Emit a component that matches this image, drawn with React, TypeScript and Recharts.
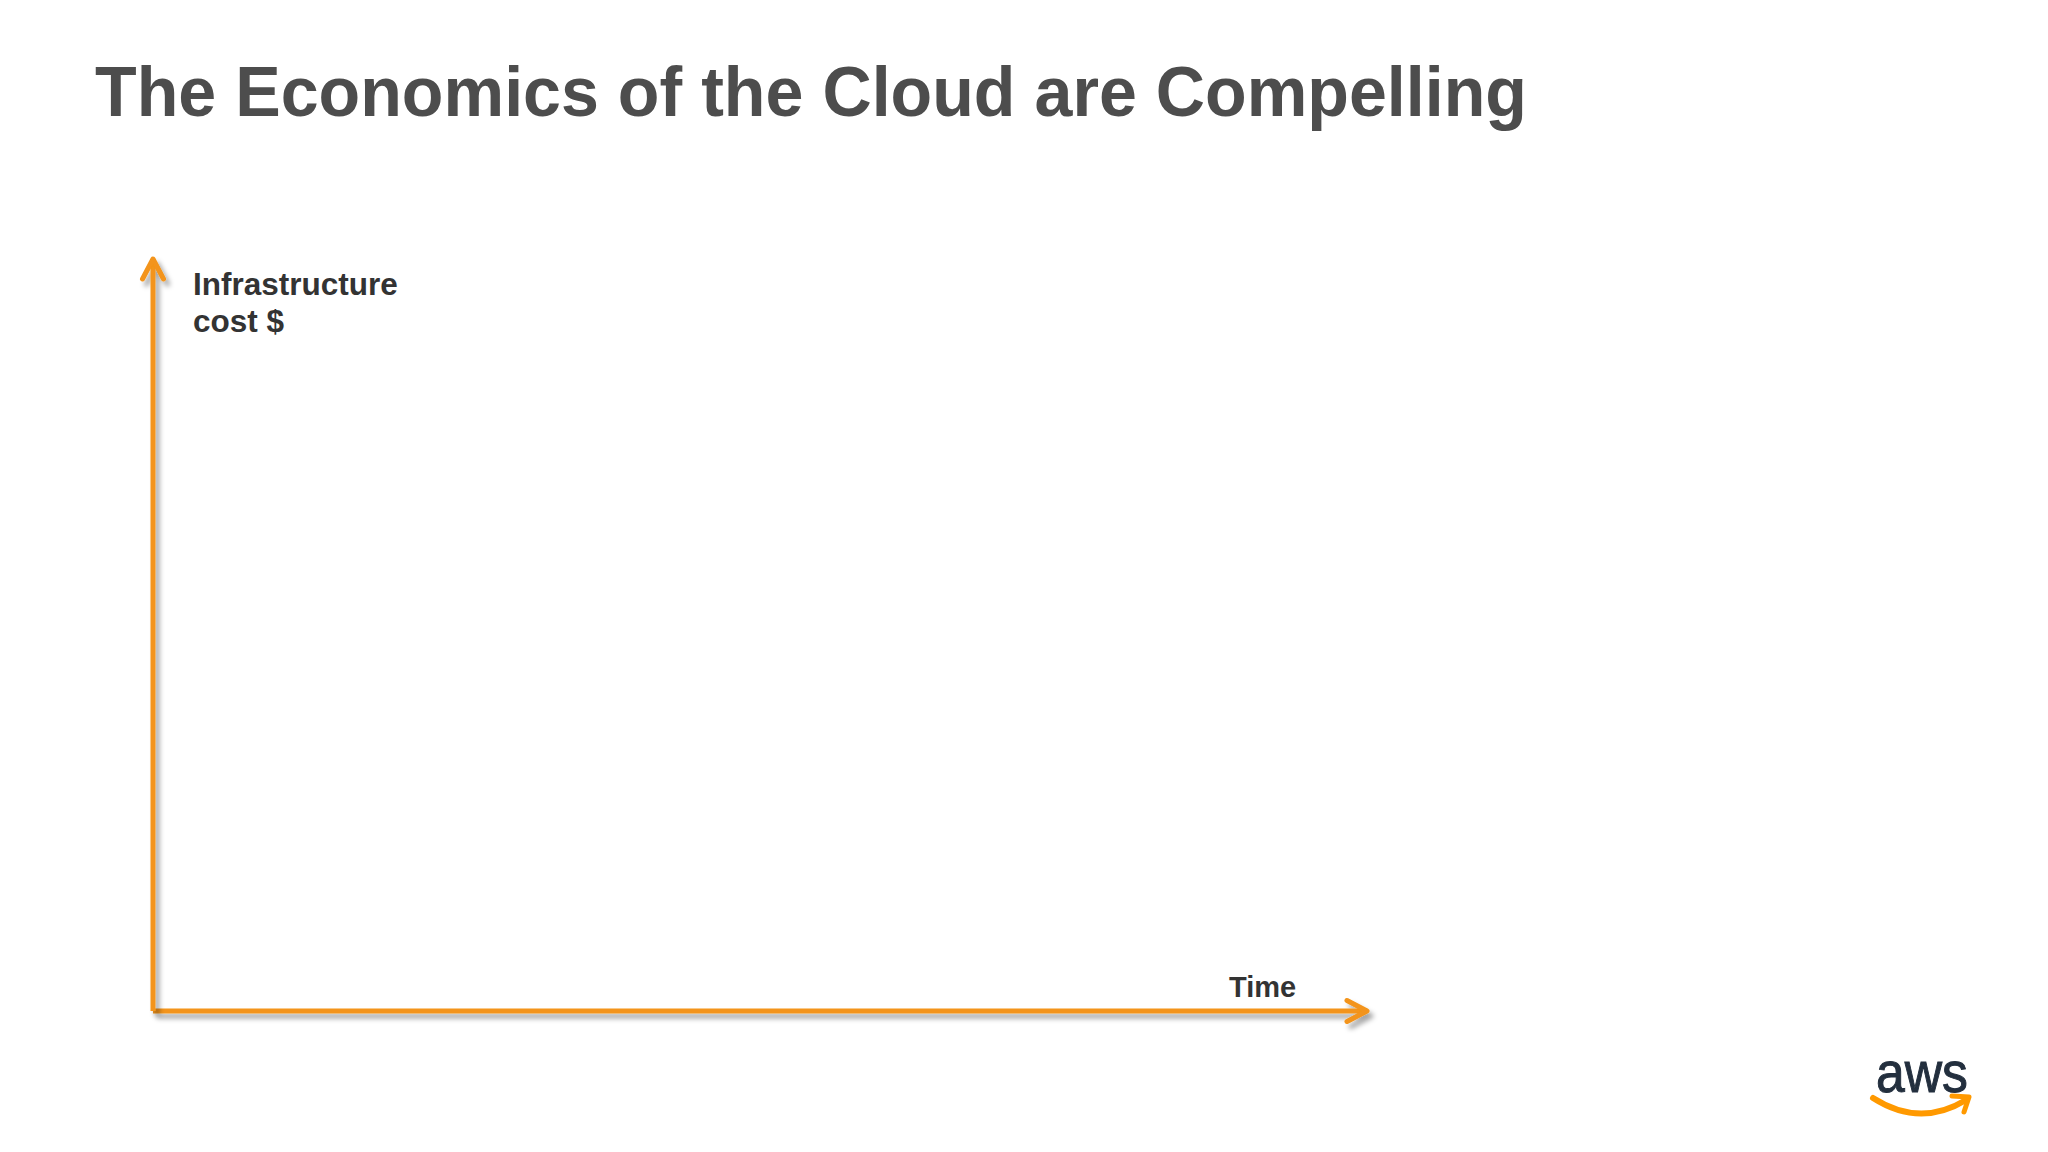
import React from 'react';
import { ComposedChart, XAxis, YAxis } from 'recharts';

const titleText = 'The Economics of the Cloud are Compelling';
const yAxisLabelLines = ['Infrastructure', 'cost $'];
const xAxisLabel = 'Time';
const logoText = 'aws';
const timeDomain = [0, 100];
const costDomain = [0, 100];
const timeValues = [0, 100];

const data = timeValues.map((t) => ({ time: t }));

const ORANGE = '#f3941a';
const AXIS_FONT = '"Liberation Sans", Arial, Helvetica, sans-serif';

export default function App() {
  return (
    <div
      style={{
        position: 'absolute',
        left: 0,
        top: 0,
        width: 2048,
        height: 1152,
        background: '#ffffff',
        overflow: 'hidden',
      }}
    >
      <svg width={0} height={0} style={{ position: 'absolute' }}>
        <defs>
          <marker
            id="arrowHead"
            markerUnits="userSpaceOnUse"
            markerWidth={40}
            markerHeight={40}
            refX={29}
            refY={20}
            viewBox="0 0 40 40"
            orient="auto-start-reverse"
          >
            <path
              d="M9,9.5 L29,20 L9,30.5"
              fill="none"
              stroke={ORANGE}
              strokeWidth={5}
              strokeLinecap="round"
              strokeLinejoin="round"
            />
          </marker>
          <filter
            id="axisShadow"
            filterUnits="userSpaceOnUse"
            x={0}
            y={0}
            width={2048}
            height={1152}
          >
            <feDropShadow dx={4} dy={5} stdDeviation={2.5} floodColor="#000" floodOpacity={0.35} />
          </filter>
        </defs>
      </svg>
      <ComposedChart
        width={2048}
        height={1152}
        data={data}
        margin={{ top: 259, right: 681, bottom: 140, left: 152 }}
        style={{ position: 'absolute', left: 0, top: 0 }}
      >
        <XAxis
          dataKey="time"
          type="number"
          domain={timeDomain}
          height={1}
          tick={false}
          tickLine={false}
          axisLine={{
            stroke: ORANGE,
            strokeWidth: 5,
            markerEnd: 'url(#arrowHead)',
            filter: 'url(#axisShadow)',
          }}
        />
        <YAxis
          type="number"
          domain={costDomain}
          width={1}
          tick={false}
          tickLine={false}
          axisLine={{
            stroke: ORANGE,
            strokeWidth: 5,
            markerStart: 'url(#arrowHead)',
            filter: 'url(#axisShadow)',
          }}
        />
      </ComposedChart>
      <svg
        width={2048}
        height={1152}
        style={{ position: 'absolute', left: 0, top: 0, pointerEvents: 'none' }}
      >
        <text
          x={95}
          y={116}
          fontFamily={AXIS_FONT}
          fontWeight={700}
          fontSize={71}
          fill="#4d4d4d"
          textLength={1432}
          lengthAdjust="spacingAndGlyphs"
        >
          {titleText}
        </text>
        {yAxisLabelLines.map((line, i) => (
          <text
            key={line}
            x={193}
            y={295 + i * 37}
            fontFamily={AXIS_FONT}
            fontWeight={700}
            fontSize={31.5}
            fill="#333333"
          >
            {line}
          </text>
        ))}
        <text x={1229} y={997} fontFamily={AXIS_FONT} fontWeight={700} fontSize={29} fill="#333333">
          {xAxisLabel}
        </text>
        <text
          x={1876}
          y={1092}
          fontFamily={AXIS_FONT}
          fontWeight={400}
          fontSize={58}
          fill="#232f3e"
          stroke="#232f3e"
          strokeWidth={1}
          textLength={92}
          lengthAdjust="spacingAndGlyphs"
        >
          {logoText}
        </text>
        <path
          d="M1873,1098 Q1920,1128 1966,1100"
          fill="none"
          stroke="#ff9900"
          strokeWidth={6}
          strokeLinecap="round"
        />
        <path
          d="M1952,1096 L1969,1097 L1964,1112"
          fill="none"
          stroke="#ff9900"
          strokeWidth={5}
          strokeLinecap="round"
          strokeLinejoin="round"
        />
      </svg>
    </div>
  );
}
